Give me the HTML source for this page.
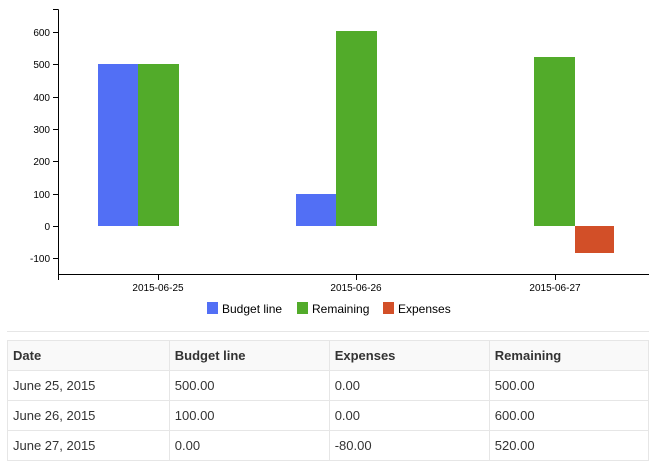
<!DOCTYPE html>
<html><head><style>
body{margin:0;width:649px;height:473px;background:#fff;font-family:"Liberation Sans",Arial,sans-serif;overflow:hidden;position:relative}
svg{position:absolute;left:0;top:0}
table{position:absolute;left:7px;top:340px;border-collapse:collapse;font-size:13px;color:#333}
td,th{border:1px solid #e6e6e6;height:30px;padding:0 0 0 5px;text-align:left;box-sizing:border-box}
th{font-weight:bold;background:#f9f9f9}
</style></head><body>
<svg width="649" height="340" font-family="Liberation Sans, Arial, sans-serif" font-size="10">
<g fill="#526ff5"><rect x="98" y="64" width="40" height="162"/><rect x="296" y="194" width="40" height="32"/></g>
<g fill="#52ab2a"><rect x="138" y="64" width="41" height="162"/><rect x="336" y="31" width="41" height="195"/><rect x="534" y="57" width="41" height="169"/></g>
<rect x="575" y="226" width="39" height="27" fill="#d24f28"/>
<g stroke="#000" stroke-width="1" fill="none">
<path d="M58.5 9.5V274.5"/><path d="M53 9.5H58.5"/><path d="M58.5 274.5H649"/>
<path d="M58.5 274.5V280M158.5 274.5V280M356.5 274.5V280M555.5 274.5V280"/>
<path d="M53 32.5h5M53 64.5h5M53 97.5h5M53 129.5h5M53 161.5h5M53 194.5h5M53 226.5h5M53 258.5h5"/>
</g>
<g text-anchor="end" fill="#000">
<text x="50" y="36">600</text><text x="50" y="68">500</text><text x="50" y="101">400</text><text x="50" y="133">300</text><text x="50" y="165">200</text><text x="50" y="198">100</text><text x="50" y="230">0</text><text x="50" y="262">-100</text>
</g>
<g text-anchor="middle" fill="#000">
<text x="158" y="291">2015-06-25</text><text x="356" y="291">2015-06-26</text><text x="555" y="291">2015-06-27</text>
</g>
<g font-size="12" fill="#000">
<rect x="207" y="302" width="11" height="12" fill="#526ff5"/><text x="222" y="313">Budget line</text>
<rect x="297" y="302" width="11" height="12" fill="#52ab2a"/><text x="312" y="313">Remaining</text>
<rect x="383" y="302" width="11" height="12" fill="#d24f28"/><text x="398" y="313">Expenses</text>
</g>
<path d="M7 331.5H649" stroke="#e6e6e6"/>
</svg>
<table>
<tr><th style="width:163px">Date</th><th style="width:161px">Budget line</th><th style="width:161px">Expenses</th><th style="width:160px">Remaining</th></tr>
<tr><td>June 25, 2015</td><td>500.00</td><td>0.00</td><td>500.00</td></tr>
<tr><td>June 26, 2015</td><td>100.00</td><td>0.00</td><td>600.00</td></tr>
<tr><td>June 27, 2015</td><td>0.00</td><td>-80.00</td><td>520.00</td></tr>
</table>
</body></html>
